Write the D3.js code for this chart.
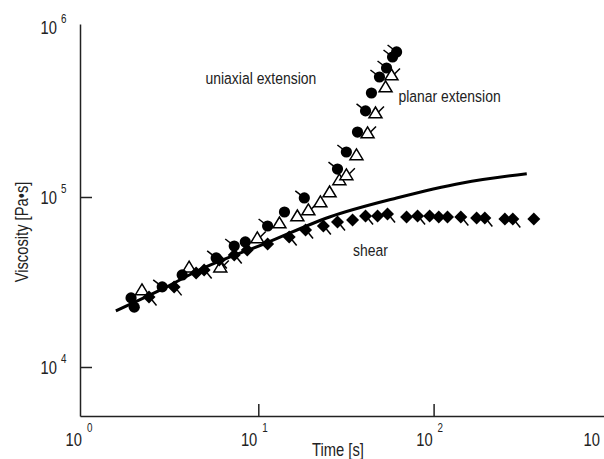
<!DOCTYPE html>
<meta charset="utf-8">
<title>Viscosity growth</title>
<style>
  body { margin: 0; background: #fff; }
  text { font-family: "Liberation Sans", Arial, sans-serif; fill: #222; }
</style>
<body>
<script src="https://d3js.org/d3.v7.min.js"></script>
<script>

// solid line (shear model)
const curveT = [1.54, 2.98, 4.60, 11.1, 25.5, 61.5, 146, 340];
const curveV = [2.14e4, 2.95e4, 3.72e4, 5.36e4, 7.63e4, 9.87e4, 1.21e5, 1.37e5];

// uniaxial extension (filled circles)
const uniaxialT = [1.88, 1.96, 2.83, 3.68, 5.75, 7.29, 8.43, 11.3, 14.1, 18.3, 28.3, 31.8, 36.8, 40.9, 44.2, 49.1, 53.9, 58.3, 61.5];
const uniaxialV = [2.55e4, 2.25e4, 2.96e4, 3.48e4, 4.38e4, 5.15e4, 5.44e4, 6.75e4, 8.16e4, 9.87e4, 1.46e5, 1.84e5, 2.41e5, 3.21e5, 4.09e5, 5.08e5, 5.74e5, 6.66e5, 7.13e5];
const uniaxialFlag = [0, 0, 1, 0, 1, 1, 0, 1, 0, 1, 1, 1, 0, 1, 0, 1, 1, 1, 1];

// planar extension (open triangles)
const planarT = [2.17, 4.03, 6.07, 9.87, 13.2, 16.7, 19.3, 22.6, 25.5, 29.0, 31.8, 36.3, 42.0, 46.6, 53.2, 57.5];
const planarV = [2.84e4, 3.87e4, 3.87e4, 5.74e4, 7.03e4, 7.73e4, 8.39e4, 9.35e4, 1.07e5, 1.26e5, 1.35e5, 1.77e5, 2.38e5, 3.12e5, 4.44e5, 5.22e5];
const planarFlag = [0, 0, 1, 1, 0, 0, 1, 0, 0, 0, 1, 0, 1, 1, 0, 1];

// shear (filled diamonds)
const shearT = [2.38, 3.31, 4.42, 4.91, 5.99, 7.29, 8.65, 11.3, 15.0, 18.6, 23.5, 28.3, 34.5, 40.9, 47.9, 54.6, 70.1, 81.0, 94.9, 107, 120, 143, 176, 196, 255, 283, 373];
const shearV = [2.58e4, 2.96e4, 3.57e4, 3.72e4, 4.26e4, 4.56e4, 4.88e4, 5.29e4, 5.82e4, 6.40e4, 6.75e4, 7.13e4, 7.32e4, 7.73e4, 7.73e4, 7.94e4, 7.63e4, 7.73e4, 7.73e4, 7.63e4, 7.63e4, 7.63e4, 7.52e4, 7.52e4, 7.42e4, 7.42e4, 7.42e4];
const shearFlag = [1, 1, 0, 1, 1, 1, 0, 0, 1, 1, 1, 1, 0, 1, 0, 1, 0, 1, 0, 0, 0, 1, 0, 1, 0, 1, 0];

const xTicks = [1, 10, 100, 1000];
const yTicks = [1e4, 1e5, 1e6];
const annotations = [
  { text: "uniaxial extension", t: 5.0, v: 4.6e5 },
  { text: "planar extension", t: 63, v: 3.6e5 },
  { text: "shear", t: 34.7, v: 4.5e4 }
];

var width = 604,
  height = 459,
  plotL = 80, plotR = 604, plotT = 24, plotB = 416,
  narrow = 0.82; // squeeze Liberation Sans to look like a condensed face

// 10^0 sits at x=83, one decade = 175.3px; 10^4 sits at y=367, one decade = 170px
var x = d3.scaleLog()
    .domain([Math.pow(10, (plotL - 83) / 175.3), Math.pow(10, (plotR - 83) / 175.3)])
    .range([plotL, plotR]);
var y = d3.scaleLog()
    .domain([Math.pow(10, 4 - (plotB - 367) / 170), Math.pow(10, 4 + (367 - plotT) / 170)])
    .range([plotB, plotT]);

var svg = d3.select("body").append("svg")
    .attr("width", width)
    .attr("height", height);

// condensed text helper
const label = function(px, py, str, size, anchor, rot) {
  return svg.append("text")
    .attr("transform", "translate(" + px + "," + py + ")" + (rot ? " rotate(" + rot + ")" : "") + " scale(" + narrow + ",1)")
    .attr("text-anchor", anchor || "start")
    .style("font-size", size + "px")
    .text(str);
};

// axes, ticks pointing inwards
svg.append("g")
    .attr("transform", "translate(0," + plotB + ")")
    .call(d3.axisBottom(x).tickValues([10, 100]).tickSizeInner(-12).tickSizeOuter(0).tickFormat(""));
svg.append("g")
    .attr("transform", "translate(" + plotL + ",0)")
    .call(d3.axisLeft(y).tickValues([1e4, 1e5]).tickSizeInner(-12).tickSizeOuter(0).tickFormat(""));
svg.selectAll(".domain, .tick line").attr("stroke", "#222").attr("stroke-width", 1.5);

// tick labels as 10 with a raised exponent
xTicks.forEach(v => {
  var px = Math.min(x(v) - 1, width - 4);
  label(px, 446, "10", 18, "end");
  label(px + 5, 432, Math.round(Math.log10(v)), 12);
});
yTicks.forEach(v => {
  label(57, y(v) + 7, "10", 18, "end");
  label(61, y(v) - 4.5, Math.round(Math.log10(v)), 12);
});

label(338, 456, "Time [s]", 18, "middle");
label(28, 232, "Viscosity [Pa\u2022s]", 18, "middle", -90);

annotations.forEach(d => label(x(d.t), y(d.v), d.text, 17));

// model curve
var line = d3.line()
    .x(d => x(d[0]))
    .y(d => y(d[1]))
    .curve(d3.curveMonotoneX);
svg.append("path")
    .datum(d3.zip(curveT, curveV))
    .attr("d", line)
    .attr("fill", "none")
    .attr("stroke", "#000")
    .attr("stroke-width", 3);

const toPoints = (ts, vs, flags) => ts.map((t, i) => ({ t: t, v: vs[i], flag: flags[i] }));

// planar: open triangles, flag up-right
var tri = svg.append("g").selectAll("g")
    .data(toPoints(planarT, planarV, planarFlag))
  .enter().append("g")
    .attr("transform", d => "translate(" + x(d.t) + "," + y(d.v) + ")");
tri.append("path")
    .attr("d", "M0,-6L6.5,4.8L-6.5,4.8Z")
    .attr("fill", "#fff")
    .attr("stroke", "#000")
    .attr("stroke-width", 1.5);
tri.filter(d => d.flag).append("line")
    .attr("x1", 3).attr("y1", -1).attr("x2", 8.5).attr("y2", -6.5)
    .attr("stroke", "#000").attr("stroke-width", 1.5);

// shear: diamonds, flag down-right
var dia = svg.append("g").selectAll("g")
    .data(toPoints(shearT, shearV, shearFlag))
  .enter().append("g")
    .attr("transform", d => "translate(" + x(d.t) + "," + y(d.v) + ")");
dia.append("path")
    .attr("d", "M0,-6.5L6.5,0L0,6.5L-6.5,0Z")
    .attr("fill", "#000");
dia.filter(d => d.flag).append("line")
    .attr("x1", 3).attr("y1", 3).attr("x2", 7.5).attr("y2", 8.5)
    .attr("stroke", "#000").attr("stroke-width", 1.5);

// uniaxial: filled circles, flag up-left
var dot = svg.append("g").selectAll("g")
    .data(toPoints(uniaxialT, uniaxialV, uniaxialFlag))
  .enter().append("g")
    .attr("transform", d => "translate(" + x(d.t) + "," + y(d.v) + ")");
dot.append("circle")
    .attr("r", 5.6)
    .attr("fill", "#000");
dot.filter(d => d.flag).append("line")
    .attr("x1", -2.5).attr("y1", -2).attr("x2", -9).attr("y2", -7)
    .attr("stroke", "#000").attr("stroke-width", 1.5);

</script>
